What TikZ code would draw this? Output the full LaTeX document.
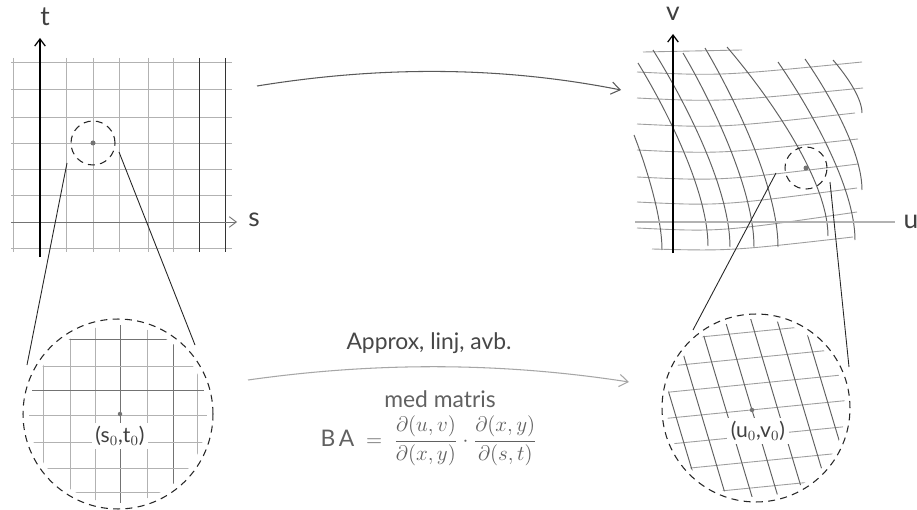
\documentclass[tikz,border=0pt]{standalone}
\usepackage{fontspec}
\setmainfont{Lato}
\usetikzlibrary{arrows.meta}
\begin{document}
\begin{tikzpicture}[x=0.02cm,y=-0.02cm,
  gridL/.style={draw=black!30, line width=0.45pt},
  gridM/.style={draw=black!55, line width=0.5pt},
  gridD/.style={draw=black!80, line width=0.55pt},
  gridH/.style={draw=black!38, line width=0.5pt},
  gridA/.style={draw=black!62, line width=0.55pt},
  axisline/.style={draw=black, line width=0.7pt, -{Straight Barb[length=4pt,width=6pt]}},
  dashcirc/.style={circle, draw=black!85, dash pattern=on 4pt off 3pt, line width=0.6pt, inner sep=0pt},
  dotn/.style={circle, fill=black!55, inner sep=0pt, minimum size=0.1cm},
  lbl/.style={font=\fontsize{15}{18}\selectfont, text=black!75, inner sep=0pt},
  ptlbl/.style={font=\fontsize{12}{14}\selectfont, text=black!75, fill=white, inner sep=2pt},
  zoomline/.style={draw=black!85, line width=0.5pt},
  maparrow/.style={line width=0.6pt, -{Straight Barb[length=5pt,width=7pt]}},
  txt/.style={font=\fontsize{13}{15}\selectfont, text=black!72}]
\fill[white] (0,0) rectangle (917,510);
\useasboundingbox (0,0) rectangle (917,510);

% ---------- left top grid ----------
\foreach \y in {62,89,117,143,169,195,248} \draw[gridL] (11,\y) -- (232,\y);
\foreach \x in {13,66,93,119,148,173} \draw[gridL] (\x,58) -- (\x,252);
\foreach \x in {199,225} \draw[gridD] (\x,58) -- (\x,252);
\coordinate (s0) at (11,222);
\coordinate (s1) at (237,222);
\draw[gridM, -{Straight Barb[length=4pt,width=6pt]}] (s0) -- (s1);
\coordinate (t0) at (40,257);
\coordinate (t1) at (40,38);
\draw[axisline] (t0) -- (t1);
\node[lbl] (tlab) at (45,17) {t};
\node[lbl] (slab) at (254,220) {s};

\node[dashcirc, minimum size=0.88cm] (sc) at (93,143) {};
\node[dotn] (sdot) at (93,143) {};

% ---------- left big circle ----------
\begin{scope}
  \clip (118,414) circle[radius=1.78cm];
  \foreach \x in {43,70,95,147,197} \draw[gridL] (\x,312) -- (\x,515);
  \foreach \x in {120,173} \draw[gridM] (\x,312) -- (\x,515);
  \foreach \y in {366,415,442,468,492} \draw[gridL] (18,\y) -- (218,\y);
  \foreach \y in {339,390} \draw[gridM] (18,\y) -- (218,\y);
\end{scope}
\node[dashcirc, minimum size=3.8cm] (bc) at (118,414) {};
\node[ptlbl] (stlab) at (120,436) {(s$_0$,t$_0$)};
\node[dotn, minimum size=0.09cm] (bdot) at (120,414) {};

\coordinate (l1a) at (67,163);
\coordinate (l1b) at (27,365);
\coordinate (l2a) at (119,152);
\coordinate (l2b) at (195,345);
\draw[zoomline] (l1a) -- (l1b);
\draw[zoomline] (l2a) -- (l2b);

% ---------- arrows and text ----------
\coordinate (ta) at (257,86);
\coordinate (tb) at (621,90);
\draw[maparrow, draw=black!65] (ta) .. controls (380,66) and (500,66) .. (tb);
\coordinate (ba) at (248,380);
\coordinate (bb) at (629,382);
\draw[maparrow, draw=black!35] (ba) .. controls (375,362) and (500,362) .. (bb);

\node[txt] (approx) at (429,343) {Approx, linj, avb.};
\node[txt, text=black!62] (medm) at (440,399) {med matris};
\node[txt, text=black!62] (form) at (429,441)
  {$\displaystyle \mathrm{B\,A} \;=\; \frac{\partial(u,v)}{\partial(x,y)}\cdot\frac{\partial(x,y)}{\partial(s,t)}$};

% ---------- right top warped grid ----------
\draw[gridH] (643,52) -- (742,50);
\foreach \yl/\yr/\xr in {72/62/862, 98/88/863, 124/113/855, 150/139/858, 177/164/858, 202/188/857, 228/212/857}
  \draw[gridH] (637,\yl) .. controls (720,\yl+4) .. (\xr,\yr);
\draw[gridH] (652,249) .. controls (730,251) .. (853,237);
\foreach \xt/\yt/\xb/\yb in {634/135/662/250, 638/63/708/246, 653/50/730/247, 683/53/754/247, 705/48/778/247, 727/47/828/236, 778/62/855/240, 805/59/862/190, 833/60/862/113}
  \draw[gridA] (\xt,\yt) .. controls ({\xt+0.4*(\xb-\xt)},{\yt+0.25*(\yb-\yt)}) and (\xb,{\yb-0.3*(\yb-\yt)}) .. (\xb,\yb);
\coordinate (u0) at (635,222);
\coordinate (u1) at (895,222);
\draw[draw=black!30, line width=0.8pt] (u0) -- (u1);
\coordinate (v0) at (673,253);
\coordinate (v1) at (673,34);
\draw[axisline] (v0) -- (v1);
\node[lbl] (vlab) at (673,14) {v};
\node[lbl] (ulab) at (911,222) {u};

\node[dashcirc, minimum size=0.84cm] (rc) at (806,168) {};
\node[dotn] (rdot) at (806,168) {};

% ---------- right big circle ----------
\begin{scope}
  \clip (756,408) circle[radius=1.78cm];
  \foreach \k in {-4,...,4} \draw[gridH] (650,420+26*\k) -- (862,399+26*\k);
  \foreach \m in {-4,...,4} \draw[gridA] (719+26*\m,300) -- (785+26*\m,520);
\end{scope}
\node[dashcirc, minimum size=3.76cm] (brc) at (756,408) {};
\node[ptlbl] (uvlab) at (758,431) {(u$_0$,v$_0$)};
\node[dotn, minimum size=0.09cm] (brdot) at (752,410) {};

\coordinate (r1a) at (776,173);
\coordinate (r1b) at (693,330);
\coordinate (r2a) at (830,182);
\coordinate (r2b) at (849,367);
\draw[zoomline] (r1a) -- (r1b);
\draw[zoomline] (r2a) -- (r2b);
\end{tikzpicture}
\end{document}
